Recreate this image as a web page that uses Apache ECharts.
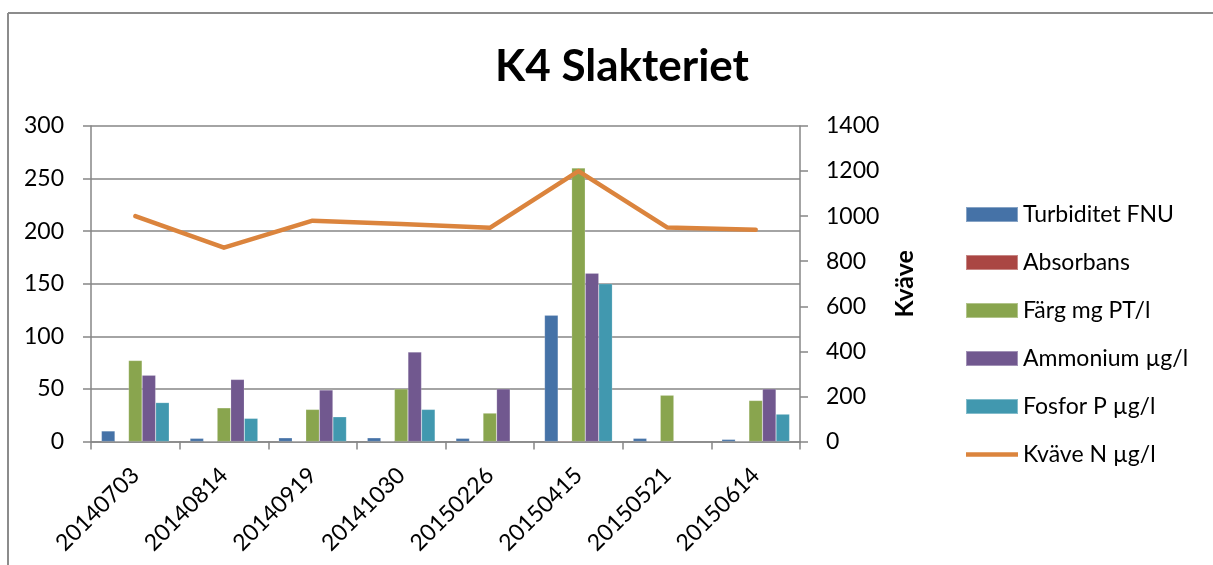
<!DOCTYPE html>
<html>
<head>
<meta charset="utf-8">
<script src="https://cdn.jsdelivr.net/npm/echarts@6/dist/echarts.min.js"></script>
<style>
html,body{margin:0;padding:0;background:#fff;}
#chart{width:1213px;height:565px;}
</style>
</head>
<body>
<div id="chart"></div>
<script>
const categories = ['20140703','20140814','20140919','20141030','20150226','20150415','20150521','20150614'];
const turbiditet = [10, 3, 3.5, 3.5, 3, 120, 3, 2];
const absorbans = [0.1, 0.1, 0.1, 0.1, 0.1, 0.6, 0.1, 0.1];
const farg = [77, 32, 30.5, 50, 27, 260, 44, 39];
const ammonium = [63, 59, 49, 85, 50, 160, null, 50];
const fosfor = [37, 22, 23.5, 30.5, null, 150, null, 26];
const kvave = [1000, 860, 980, 965, 948, 1200, 950, 940];
const leftTicks = [0, 300, 50];
const rightTicks = [0, 1400, 200];

const FONT = 'Lato';
const FS = 23;
const gray = '#868686';
const chart = echarts.init(document.getElementById('chart'), null, {renderer: 'canvas'});

function bar(name, data, color) {
  return {
    name: name, type: 'bar', data: data, yAxisIndex: 0,
    barGap: '0%', barCategoryGap: '23.5%',
    itemStyle: {color: color, borderColor: 'rgba(255,255,255,0.35)', borderWidth: 0.5},
    emphasis: {disabled: true}
  };
}

chart.setOption({
  animation: false,
  backgroundColor: '#fff',
  textStyle: {fontFamily: FONT},
  title: {
    text: 'K4 Slakteriet', left: 617, top: 40, textAlign: 'center',
    textStyle: {fontFamily: FONT, fontSize: 44, fontWeight: 'bold', color: '#000'}
  },
  graphic: [
    {type: 'line', shape: {x1: 8, y1: 13, x2: 1213, y2: 13}, style: {stroke: '#8c8c8c', lineWidth: 2}},
    {type: 'line', shape: {x1: 8, y1: 13, x2: 8, y2: 565}, style: {stroke: '#8c8c8c', lineWidth: 2}}
  ],
  legend: {
    orient: 'vertical', left: 965, top: 203, padding: 0,
    itemWidth: 52, itemHeight: 15, itemGap: 25, symbolKeepAspect: true,
    textStyle: {fontFamily: FONT, fontSize: FS, color: '#000'},
    data: [
      {name: 'Turbiditet FNU', icon: 'rect'},
      {name: 'Absorbans', icon: 'rect'},
      {name: 'Färg mg PT/l', icon: 'rect'},
      {name: 'Ammonium µg/l', icon: 'rect'},
      {name: 'Fosfor P µg/l', icon: 'rect'},
      {name: 'Kväve N µg/l', icon: 'path://M0,0 L52,0 L52,4.5 L0,4.5 Z'}
    ]
  },
  grid: {left: 91, right: 413, top: 126, bottom: 123.5, containLabel: false},
  xAxis: {
    type: 'category', data: categories,
    axisLine: {lineStyle: {color: gray, width: 1.5}},
    axisTick: {show: true, alignWithLabel: false, length: 8, lineStyle: {color: gray, width: 1.5}},
    axisLabel: {rotate: 45, fontFamily: FONT, fontSize: FS, color: '#000', margin: 30, interval: 0}
  },
  yAxis: [
    {
      type: 'value', min: leftTicks[0], max: leftTicks[1], interval: leftTicks[2], position: 'left',
      axisLine: {show: true, lineStyle: {color: gray, width: 1.5}},
      axisTick: {show: true, length: 8, lineStyle: {color: gray, width: 1.5}},
      splitLine: {show: true, lineStyle: {color: gray, width: 1.5}},
      axisLabel: {fontFamily: FONT, fontSize: FS, color: '#000', margin: 27}
    },
    {
      type: 'value', min: rightTicks[0], max: rightTicks[1], interval: rightTicks[2], position: 'right',
      name: 'Kväve', nameLocation: 'middle', nameRotate: 90, nameGap: 92,
      nameTextStyle: {fontFamily: FONT, fontSize: 25, fontWeight: 'bold', color: '#000'},
      axisLine: {show: true, lineStyle: {color: gray, width: 1.5}},
      axisTick: {show: true, length: 8, lineStyle: {color: gray, width: 1.5}},
      splitLine: {show: false},
      axisLabel: {fontFamily: FONT, fontSize: FS, color: '#000', margin: 26, formatter: v => String(v)}
    }
  ],
  series: [
    bar('Turbiditet FNU', turbiditet, '#4572A7'),
    bar('Absorbans', absorbans, '#AA4643'),
    bar('Färg mg PT/l', farg, '#89A54E'),
    bar('Ammonium µg/l', ammonium, '#71588F'),
    bar('Fosfor P µg/l', fosfor, '#4198AF'),
    {
      name: 'Kväve N µg/l', type: 'line', yAxisIndex: 1, data: kvave,
      symbol: 'none', lineStyle: {color: '#DB843D', width: 4.5, cap: 'round', join: 'round'},
      itemStyle: {color: '#DB843D'}, emphasis: {disabled: true}, z: 5
    }
  ]
});
</script>
</body>
</html>
